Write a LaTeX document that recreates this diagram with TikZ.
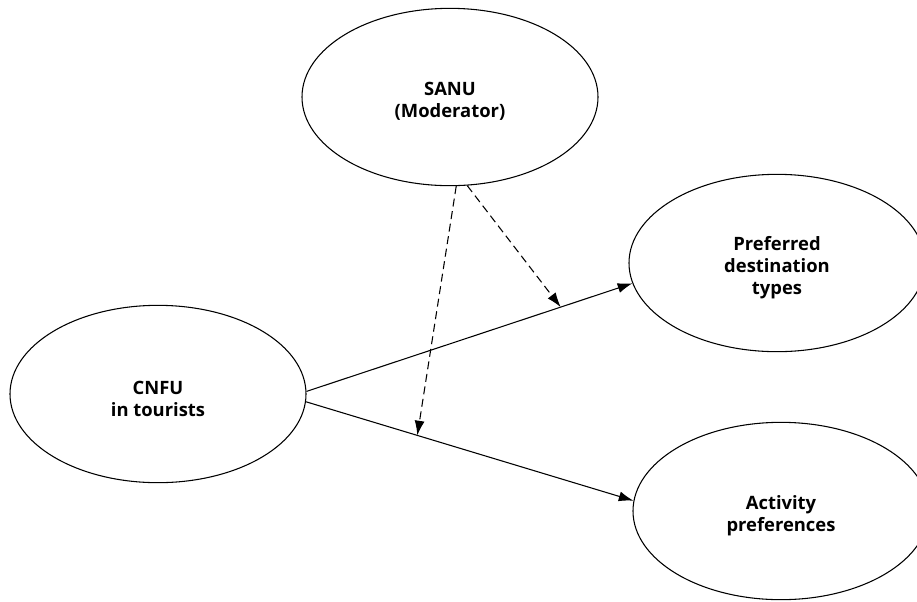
\documentclass[tikz,border=0pt]{standalone}
\usepackage{fontspec}
\setmainfont{Open Sans}
\usetikzlibrary{shapes.geometric,arrows.meta}
\newcommand\lowtext{\rule{0pt}{17pt}}   % text sits a bit below the centre

\begin{document}
\begin{tikzpicture}[x=0.75pt, y=-0.75pt, line width=0.8pt,
    construct/.style={ellipse, draw, minimum width=222pt, minimum height=133pt,
      align=center, font=\bfseries\fontsize{13.8}{16.5}\selectfont},
    effect/.style={-{Latex[length=11pt,width=7.5pt]}},
    moderation/.style={effect, dash pattern=on 6pt off 3.5pt}]
  \useasboundingbox (0,0) rectangle (917,601);   % page in px of the reference
  % --- constructs ---
  \node[construct] (sanu) at (450,97)  {\lowtext SANU\\(Moderator)};
  \node[construct] (pref) at (777,263) {\lowtext Preferred\\destination\\types};
  \node[construct] (cnfu) at (158,394) {\lowtext CNFU\\in tourists};
  \node[construct] (act)  at (781,511) {\lowtext Activity\\preferences};
  % --- direct effects (with the points hit by the moderator) ---
  \draw[effect] (cnfu.1)  -- coordinate[pos=0.78] (mpref) (pref.188);
  \draw[effect] (cnfu.-3) -- coordinate[pos=0.34] (mact)  (act.176);
  % --- moderating effects ---
  \draw[moderation] (sanu.274) -- (mact);
  \draw[moderation] (sanu.281) -- (mpref);
\end{tikzpicture}
\end{document}
